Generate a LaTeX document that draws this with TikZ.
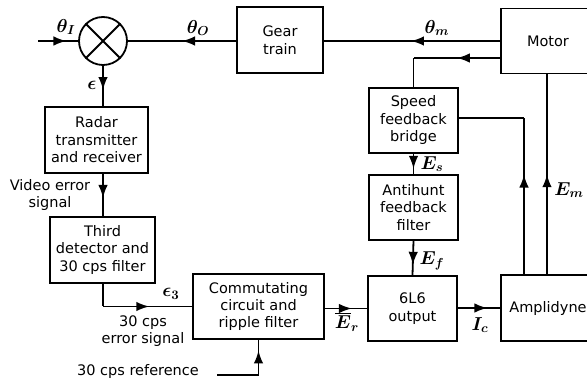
\documentclass[tikz,border=0pt]{standalone}
\usepackage{amsmath,bm}
\usepackage{fontspec}
\setmainfont{DejaVu Sans}
\usetikzlibrary{arrows.meta,decorations.markings,calc}
\newcommand{\mylab}[1]{\scalebox{1.3}{$#1$}}
\tikzset{
  blk/.style={draw, line width=1.8pt, rectangle, inner sep=0pt, align=center,
              font=\fontsize{14.5}{17.5}\selectfont},
  wire/.style={line width=1.8pt},
  arrat/.style={postaction={decorate},
     decoration={markings, mark=at position #1 with {\arrow{Latex[length=13pt,width=9.5pt]}}}},
  lab/.style={inner sep=0pt, font=\fontsize{14.4}{16}\selectfont},
  txt/.style={inner sep=0pt, align=center, font=\fontsize{14.5}{17.5}\selectfont}
}
\begin{document}
\begin{tikzpicture}[x=1pt,y=-1pt]
\useasboundingbox (0,0) rectangle (587,382);
\clip (0,0) rectangle (587,382);

% blocks
\node[draw, line width=1.8pt, circle, minimum size=48pt, inner sep=0pt] (sum) at (103,41) {};
\draw[wire] (sum.north west) -- (sum.south east) (sum.north east) -- (sum.south west);
\node[blk, minimum width=86pt, minimum height=66pt] (gear) at (280,40) {Gear\\train};
\node[blk, minimum width=94pt, minimum height=65pt] (motor) at (548,41) {Motor};
\node[blk, minimum width=103pt, minimum height=66pt] (radar) at (96.5,140) {Radar\\transmitter\\and receiver};
\node[blk, minimum width=105pt, minimum height=66pt] (third) at (102.5,250) {Third\\detector and\\30 cps filter};
\node[blk, minimum width=131pt, minimum height=65pt] (comm) at (258.5,306.5) {Commutating\\circuit and\\ripple filter};
\node[blk, minimum width=89pt, minimum height=65pt] (speed) at (413.5,120.5) {Speed\\feedback\\bridge};
\node[blk, minimum width=89pt, minimum height=65pt] (anti) at (413.5,207.5) {Antihunt\\feedback\\filter};
\node[blk, minimum width=89pt, minimum height=65pt] (l6) at (412.5,308.5) {6L6\\output};
\node[blk, minimum width=94pt, minimum height=66pt] (amp) at (548,308) {Amplidyne};

% free texts
\node[txt] (video) at (50,195) {Video error\\signal};
\node[txt] (errsig) at (143,331) {30 cps\\error signal};
\node[txt, anchor=west] (ref) at (77,372) {30 cps reference};

% connectors
\coordinate (in) at (38,41);
\draw[wire, arrat=0.71] (in) -- (sum.west);
\draw[wire, arrat=0.5] (gear.west |- sum.east) -- (sum.east);
\draw[wire, arrat=0.506] (motor.west) -- (motor.west -| gear.east);
\coordinate (m2) at ($(motor.west)+(0,17)$);
\draw[wire, arrat=0.5] (m2) -- (speed.north |- m2);
\draw[wire] (speed.north |- m2) -- (speed.north);
\coordinate (a1) at (524,275);
\draw[wire, arrat=0.64] (a1) -- (a1 |- 0,118);
\draw[wire] (a1 |- 0,118) -- (speed.east |- 0,118);
\draw[wire, arrat=0.5] (amp.north -| 547,0) -- (motor.south -| 547,0);
\draw[wire, arrat=0.74] (speed.south) -- (anti.north);
\draw[wire, arrat=0.7] (anti.south) -- (l6.north);
\draw[wire, arrat=0.7] (l6.east |- amp.west) -- (amp.west);
\draw[wire, arrat=0.64] (comm.east |- l6.west) -- (l6.west);
\draw[wire, arrat=0.6] (sum.south) -- (sum.south |- radar.north);
\draw[wire, arrat=0.57] (radar.south -| sum.south) -- (third.north -| sum.south);
\coordinate (t1) at (third.south -| sum.south);
\draw[wire] (t1) -- (t1 |- comm.west);
\draw[wire, arrat=0.52] (t1 |- comm.west) -- (comm.west);
\coordinate (refend) at (217,375);
\draw[wire] (refend) -- (refend -| comm.south);
\draw[wire, arrat=0.7] (refend -| comm.south) -- (comm.south);

% labels
\node[lab] (lthI) at (66,27) {\mylab{\bm{\theta_I}}};
\node[lab] (lthO) at (198,28) {\mylab{\bm{\theta_O}}};
\node[lab] (lthm) at (437,28) {\mylab{\bm{\theta_m}}};
\node[lab] (leps) at (92,85) {\mylab{\bm{\epsilon}}};
\node[lab] (leps3) at (171,294) {\mylab{\bm{\epsilon_3}}};
\node[lab] (lEs) at (432,164) {\mylab{\bm{E_s}}};
\node[lab] (lEf) at (432,261) {\mylab{\bm{E_f}}};
\node[lab] (lEr) at (347,322) {\mylab{\overline{\bm{E}}_{\bm r}}};
\node[lab] (lIc) at (480,325) {\mylab{\bm{I_c}}};
\node[lab] (lEm) at (569,190) {\mylab{\bm{E_m}}};
\end{tikzpicture}
\end{document}
